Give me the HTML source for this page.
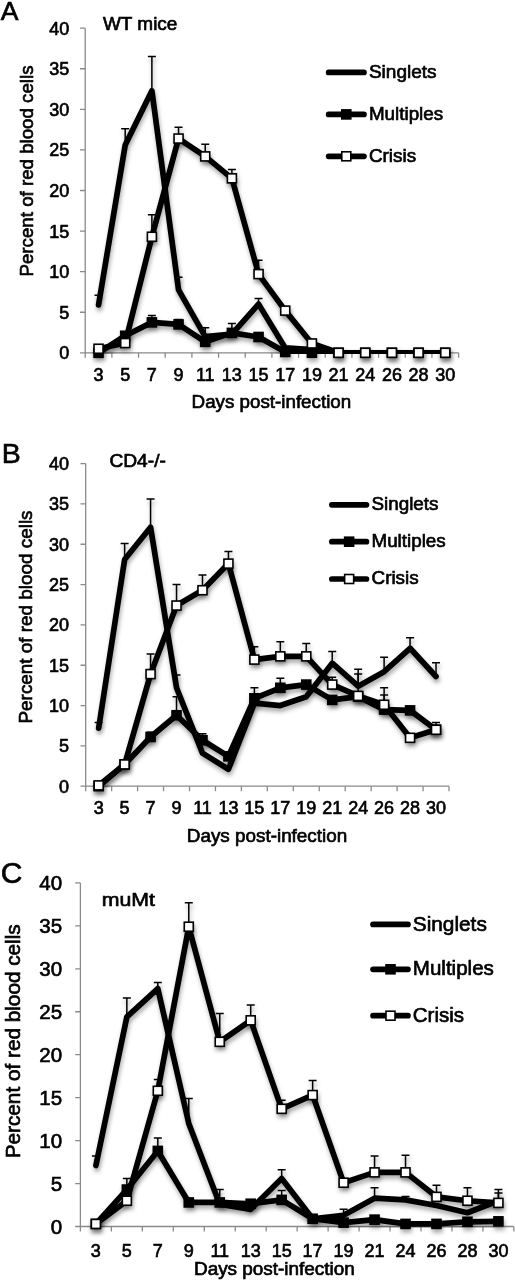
<!DOCTYPE html>
<html><head><meta charset="utf-8"><style>
html,body{margin:0;padding:0;background:#fff;}
svg{display:block;filter:blur(0.3px);}
text{font-family:"Liberation Sans", sans-serif;stroke:#000;stroke-width:0.65px;-webkit-font-smoothing:antialiased;}
</style></head><body>
<svg width="515" height="1280" viewBox="0 0 515 1280" font-family='"Liberation Sans", sans-serif'>
<defs><filter id="sh" x="-10%" y="-10%" width="120%" height="130%"><feDropShadow dx="1" dy="3.5" stdDeviation="2" flood-color="#000" flood-opacity="0.33"/></filter></defs>
<rect width="515" height="1280" fill="#fff"/>
<g stroke="#8a8a8a" stroke-width="1.3" fill="none">
<path d="M85.2 28.2V357.8M85.2 352.8H458.6"/>
<path d="M80 352.8H85.2M80 312.23H85.2M80 271.65H85.2M80 231.07H85.2M80 190.5H85.2M80 149.93H85.2M80 109.35H85.2M80 68.77H85.2M80 28.2H85.2M111.87 352.8v5M138.54 352.8v5M165.21 352.8v5M191.89 352.8v5M218.56 352.8v5M245.23 352.8v5M271.9 352.8v5M298.57 352.8v5M325.24 352.8v5M351.91 352.8v5M378.59 352.8v5M405.26 352.8v5M431.93 352.8v5M458.6 352.8v5"/>
</g>
<g font-size="18" text-anchor="end" fill="#000">
<text x="69.3" y="359.23">0</text>
<text x="69.3" y="318.65">5</text>
<text x="69.3" y="278.08">10</text>
<text x="69.3" y="237.5">15</text>
<text x="69.3" y="196.93">20</text>
<text x="69.3" y="156.35">25</text>
<text x="69.3" y="115.78">30</text>
<text x="69.3" y="75.2">35</text>
<text x="69.3" y="34.63">40</text>
</g>
<g font-size="18" text-anchor="middle" fill="#000">
<text x="98.54" y="381.43">3</text>
<text x="125.21" y="381.43">5</text>
<text x="151.88" y="381.43">7</text>
<text x="178.55" y="381.43">9</text>
<text x="205.22" y="381.43">11</text>
<text x="231.89" y="381.43">13</text>
<text x="258.56" y="381.43">15</text>
<text x="285.24" y="381.43">17</text>
<text x="311.91" y="381.43">19</text>
<text x="338.58" y="381.43">21</text>
<text x="365.25" y="381.43">24</text>
<text x="391.92" y="381.43">26</text>
<text x="418.59" y="381.43">28</text>
<text x="445.26" y="381.43">30</text>
</g>
<text transform="translate(33.16 171) rotate(-90)" text-anchor="middle" font-size="18.5" textLength="211" lengthAdjust="spacingAndGlyphs">Percent of red blood cells</text>
<text x="191.6" y="408" font-size="18" textLength="159.6" lengthAdjust="spacingAndGlyphs">Days post-infection</text>
<text x="0.8" y="20.2" font-size="26.5">A</text>
<text x="102.9" y="30.3" font-size="18" textLength="74.5" lengthAdjust="spacingAndGlyphs">WT mice</text>
<path d="M328.65 72.4H363.95" stroke="#000" stroke-width="5.7" stroke-linecap="round" fill="none"/>
<text x="368.9" y="77.83" font-size="18" textLength="67.7" lengthAdjust="spacingAndGlyphs">Singlets</text>
<path d="M328.65 114.4H363.95" stroke="#000" stroke-width="5.7" stroke-linecap="round" fill="none"/>
<rect x="341.8" y="109.9" width="9.0" height="9.0" fill="#000" stroke="#000" stroke-width="1.6"/>
<text x="368.9" y="119.83" font-size="18" textLength="74.3" lengthAdjust="spacingAndGlyphs">Multiples</text>
<path d="M328.65 156.3H363.95" stroke="#000" stroke-width="5.7" stroke-linecap="round" fill="none"/>
<rect x="341.8" y="151.8" width="9.0" height="9.0" fill="#fff" stroke="#000" stroke-width="1.6"/>
<text x="368.9" y="161.73" font-size="18" textLength="47.2" lengthAdjust="spacingAndGlyphs">Crisis</text>
<clipPath id="clipA"><rect x="85.2" y="8.2" width="393.4" height="345.8"/></clipPath>
<path d="M98.54 304.92V295.18M94.54 295.18H102.54M125.21 145.06V128.83M121.21 128.83H129.21M151.88 90.69V56.6M147.88 56.6H155.88M178.55 289.91V277.33M174.55 277.33H182.55M205.22 336.57V327.64M201.22 327.64H209.22M258.56 304.11V298.43M254.56 298.43H262.56" stroke="#000" stroke-width="1.5" fill="none" filter="url(#sh)"/>
<g clip-path="url(#clipA)"><polyline points="98.54,304.92 125.21,145.06 151.88,90.69 178.55,289.91 205.22,336.57 231.89,334.14 258.56,304.11 285.24,347.93 311.91,349.55 338.58,352.8 365.25,352.8 391.92,352.8 418.59,352.8 445.26,352.8" fill="none" stroke="#000" stroke-width="5.7" stroke-linejoin="round" stroke-linecap="round" filter="url(#sh)"/></g>
<path d="M151.88 322.37V315.47M147.88 315.47H155.88M178.55 324.4V319.53M174.55 319.53H182.55M231.89 332.92V323.59M227.89 323.59H235.89" stroke="#000" stroke-width="1.5" fill="none" filter="url(#sh)"/>
<g clip-path="url(#clipA)"><polyline points="98.54,352.8 125.21,335.76 151.88,322.37 178.55,324.4 205.22,341.84 231.89,332.92 258.56,336.98 285.24,351.99 311.91,352.8 338.58,352.8 365.25,352.8 391.92,352.8 418.59,352.8 445.26,352.8" fill="none" stroke="#000" stroke-width="5.7" stroke-linejoin="round" stroke-linecap="round" filter="url(#sh)"/></g>
<g fill="#000" stroke="#000" stroke-width="1.6" filter="url(#sh)"><rect x="94.04" y="348.3" width="9.0" height="9.0"/><rect x="120.71" y="331.26" width="9.0" height="9.0"/><rect x="147.38" y="317.87" width="9.0" height="9.0"/><rect x="174.05" y="319.9" width="9.0" height="9.0"/><rect x="200.72" y="337.34" width="9.0" height="9.0"/><rect x="227.39" y="328.42" width="9.0" height="9.0"/><rect x="254.06" y="332.48" width="9.0" height="9.0"/><rect x="280.74" y="347.49" width="9.0" height="9.0"/><rect x="307.41" y="348.3" width="9.0" height="9.0"/><rect x="334.08" y="348.3" width="9.0" height="9.0"/><rect x="360.75" y="348.3" width="9.0" height="9.0"/><rect x="387.42" y="348.3" width="9.0" height="9.0"/><rect x="414.09" y="348.3" width="9.0" height="9.0"/><rect x="440.76" y="348.3" width="9.0" height="9.0"/></g>
<path d="M151.88 236.76V214.84M147.88 214.84H155.88M178.55 138.56V127.2M174.55 127.2H182.55M205.22 156.42V144.24M201.22 144.24H209.22M231.89 178.33V169.4M227.89 169.4H235.89M258.56 274.08V260.29M254.56 260.29H262.56" stroke="#000" stroke-width="1.5" fill="none" filter="url(#sh)"/>
<g clip-path="url(#clipA)"><polyline points="98.54,348.74 125.21,343.06 151.88,236.76 178.55,138.56 205.22,156.42 231.89,178.33 258.56,274.08 285.24,310.6 311.91,343.47 338.58,352.8 365.25,352.8 391.92,352.8 418.59,352.8 445.26,352.8" fill="none" stroke="#000" stroke-width="5.7" stroke-linejoin="round" stroke-linecap="round" filter="url(#sh)"/></g>
<g fill="#fff" stroke="#000" stroke-width="1.6" filter="url(#sh)"><rect x="94.04" y="344.24" width="9.0" height="9.0"/><rect x="120.71" y="338.56" width="9.0" height="9.0"/><rect x="147.38" y="232.26" width="9.0" height="9.0"/><rect x="174.05" y="134.06" width="9.0" height="9.0"/><rect x="200.72" y="151.92" width="9.0" height="9.0"/><rect x="227.39" y="173.83" width="9.0" height="9.0"/><rect x="254.06" y="269.58" width="9.0" height="9.0"/><rect x="280.74" y="306.1" width="9.0" height="9.0"/><rect x="307.41" y="338.97" width="9.0" height="9.0"/><rect x="334.08" y="348.3" width="9.0" height="9.0"/><rect x="360.75" y="348.3" width="9.0" height="9.0"/><rect x="387.42" y="348.3" width="9.0" height="9.0"/><rect x="414.09" y="348.3" width="9.0" height="9.0"/><rect x="440.76" y="348.3" width="9.0" height="9.0"/></g>
<g stroke="#8a8a8a" stroke-width="1.3" fill="none">
<path d="M85.7 463.6V791.2M85.7 786.2H449"/>
<path d="M80.5 786.2H85.7M80.5 745.88H85.7M80.5 705.55H85.7M80.5 665.23H85.7M80.5 624.9H85.7M80.5 584.58H85.7M80.5 544.25H85.7M80.5 503.93H85.7M80.5 463.6H85.7M111.65 786.2v5M137.6 786.2v5M163.55 786.2v5M189.5 786.2v5M215.45 786.2v5M241.4 786.2v5M267.35 786.2v5M293.3 786.2v5M319.25 786.2v5M345.2 786.2v5M371.15 786.2v5M397.1 786.2v5M423.05 786.2v5M449 786.2v5"/>
</g>
<g font-size="18" text-anchor="end" fill="#000">
<text x="69.1" y="792.63">0</text>
<text x="69.1" y="752.3">5</text>
<text x="69.1" y="711.98">10</text>
<text x="69.1" y="671.65">15</text>
<text x="69.1" y="631.33">20</text>
<text x="69.1" y="591">25</text>
<text x="69.1" y="550.68">30</text>
<text x="69.1" y="510.35">35</text>
<text x="69.1" y="470.03">40</text>
</g>
<g font-size="18" text-anchor="middle" fill="#000">
<text x="98.67" y="814.43">3</text>
<text x="124.62" y="814.43">5</text>
<text x="150.57" y="814.43">7</text>
<text x="176.53" y="814.43">9</text>
<text x="202.47" y="814.43">11</text>
<text x="228.43" y="814.43">13</text>
<text x="254.38" y="814.43">15</text>
<text x="280.32" y="814.43">17</text>
<text x="306.27" y="814.43">19</text>
<text x="332.23" y="814.43">21</text>
<text x="358.17" y="814.43">24</text>
<text x="384.12" y="814.43">26</text>
<text x="410.07" y="814.43">28</text>
<text x="436.02" y="814.43">30</text>
</g>
<text transform="translate(31.86 617) rotate(-90)" text-anchor="middle" font-size="18.5" textLength="213" lengthAdjust="spacingAndGlyphs">Percent of red blood cells</text>
<text x="186.8" y="841.5" font-size="18" textLength="160.4" lengthAdjust="spacingAndGlyphs">Days post-infection</text>
<text x="1.8" y="462.9" font-size="28.5">B</text>
<text x="109.4" y="467.2" font-size="18" textLength="56.5" lengthAdjust="spacingAndGlyphs">CD4-/-</text>
<path d="M331.85 504.8H366.45" stroke="#000" stroke-width="5.7" stroke-linecap="round" fill="none"/>
<text x="371.5" y="510.23" font-size="18" textLength="67" lengthAdjust="spacingAndGlyphs">Singlets</text>
<path d="M331.85 541.7H366.45" stroke="#000" stroke-width="5.7" stroke-linecap="round" fill="none"/>
<rect x="344.65" y="537.2" width="9.0" height="9.0" fill="#000" stroke="#000" stroke-width="1.6"/>
<text x="371.5" y="547.13" font-size="18" textLength="74.2" lengthAdjust="spacingAndGlyphs">Multiples</text>
<path d="M331.85 579H366.45" stroke="#000" stroke-width="5.7" stroke-linecap="round" fill="none"/>
<rect x="344.65" y="574.5" width="9.0" height="9.0" fill="#fff" stroke="#000" stroke-width="1.6"/>
<text x="371.5" y="584.43" font-size="18" textLength="47.2" lengthAdjust="spacingAndGlyphs">Crisis</text>
<clipPath id="clipB"><rect x="85.7" y="443.6" width="383.3" height="343.8"/></clipPath>
<path d="M98.67 728.13V722.49M94.67 722.49H102.67M124.62 559.57V543.44M120.62 543.44H128.62M150.57 527.31V499.09M146.57 499.09H154.57M176.53 687.81V674.9M172.53 674.9H180.53M332.23 663.21V651.51M328.23 651.51H336.23M358.17 686.19V669.26M354.17 669.26H362.17M384.12 671.68V657.16M380.12 657.16H388.12M410.07 648.29V637.8M406.07 637.8H414.07M436.02 676.52V662.81M432.02 662.81H440.02" stroke="#000" stroke-width="1.5" fill="none" filter="url(#sh)"/>
<g clip-path="url(#clipB)"><polyline points="98.67,728.13 124.62,559.57 150.57,527.31 176.53,687.81 202.47,753.13 228.43,769.26 254.38,703.13 280.32,705.55 306.27,696.68 332.23,663.21 358.17,686.19 384.12,671.68 410.07,648.29 436.02,676.52" fill="none" stroke="#000" stroke-width="5.7" stroke-linejoin="round" stroke-linecap="round" filter="url(#sh)"/></g>
<path d="M150.57 737V732.16M146.57 732.16H154.57M176.53 715.23V696.68M172.53 696.68H180.53M202.47 740.23V733.78M198.47 733.78H206.47M254.38 698.29V687.81M250.38 687.81H258.38M280.32 687.81V678.13M276.32 678.13H284.32M384.12 709.58V695.07M380.12 695.07H388.12" stroke="#000" stroke-width="1.5" fill="none" filter="url(#sh)"/>
<g clip-path="url(#clipB)"><polyline points="98.67,786.2 124.62,764.42 150.57,737 176.53,715.23 202.47,740.23 228.43,756.36 254.38,698.29 280.32,687.81 306.27,684.58 332.23,699.9 358.17,696.68 384.12,709.58 410.07,710.39 436.02,729.75" fill="none" stroke="#000" stroke-width="5.7" stroke-linejoin="round" stroke-linecap="round" filter="url(#sh)"/></g>
<g fill="#000" stroke="#000" stroke-width="1.6" filter="url(#sh)"><rect x="94.17" y="781.7" width="9.0" height="9.0"/><rect x="120.12" y="759.92" width="9.0" height="9.0"/><rect x="146.07" y="732.5" width="9.0" height="9.0"/><rect x="172.03" y="710.73" width="9.0" height="9.0"/><rect x="197.97" y="735.73" width="9.0" height="9.0"/><rect x="223.93" y="751.86" width="9.0" height="9.0"/><rect x="249.88" y="693.79" width="9.0" height="9.0"/><rect x="275.82" y="683.31" width="9.0" height="9.0"/><rect x="301.77" y="680.08" width="9.0" height="9.0"/><rect x="327.73" y="695.4" width="9.0" height="9.0"/><rect x="353.67" y="692.18" width="9.0" height="9.0"/><rect x="379.62" y="705.08" width="9.0" height="9.0"/><rect x="405.57" y="705.89" width="9.0" height="9.0"/><rect x="431.52" y="725.25" width="9.0" height="9.0"/></g>
<path d="M150.57 674.1V653.93M146.57 653.93H154.57M176.53 605.54V584.58M172.53 584.58H180.53M202.47 590.22V574.9M198.47 574.9H206.47M228.43 563.61V551.51M224.43 551.51H232.43M254.38 659.58V646.68M250.38 646.68H258.38M280.32 656.35V641.84M276.32 641.84H284.32M306.27 656.35V643.45M302.27 643.45H310.27M332.23 684.58V677.32M328.23 677.32H336.23M358.17 695.87V674.1M354.17 674.1H362.17M384.12 704.74V687.81M380.12 687.81H388.12M436.02 729.75V722.49M432.02 722.49H440.02" stroke="#000" stroke-width="1.5" fill="none" filter="url(#sh)"/>
<g clip-path="url(#clipB)"><polyline points="98.67,785.39 124.62,764.42 150.57,674.1 176.53,605.54 202.47,590.22 228.43,563.61 254.38,659.58 280.32,656.35 306.27,656.35 332.23,684.58 358.17,695.87 384.12,704.74 410.07,737.81 436.02,729.75" fill="none" stroke="#000" stroke-width="5.7" stroke-linejoin="round" stroke-linecap="round" filter="url(#sh)"/></g>
<g fill="#fff" stroke="#000" stroke-width="1.6" filter="url(#sh)"><rect x="94.17" y="780.89" width="9.0" height="9.0"/><rect x="120.12" y="759.92" width="9.0" height="9.0"/><rect x="146.07" y="669.6" width="9.0" height="9.0"/><rect x="172.03" y="601.04" width="9.0" height="9.0"/><rect x="197.97" y="585.72" width="9.0" height="9.0"/><rect x="223.93" y="559.11" width="9.0" height="9.0"/><rect x="249.88" y="655.08" width="9.0" height="9.0"/><rect x="275.82" y="651.85" width="9.0" height="9.0"/><rect x="301.77" y="651.85" width="9.0" height="9.0"/><rect x="327.73" y="680.08" width="9.0" height="9.0"/><rect x="353.67" y="691.37" width="9.0" height="9.0"/><rect x="379.62" y="700.24" width="9.0" height="9.0"/><rect x="405.57" y="733.31" width="9.0" height="9.0"/><rect x="431.52" y="725.25" width="9.0" height="9.0"/></g>
<g stroke="#8a8a8a" stroke-width="1.3" fill="none">
<path d="M80.4 882.9V1231.5M80.4 1226.5H513.9"/>
<path d="M75.2 1226.5H80.4M75.2 1183.55H80.4M75.2 1140.6H80.4M75.2 1097.65H80.4M75.2 1054.7H80.4M75.2 1011.75H80.4M75.2 968.8H80.4M75.2 925.85H80.4M75.2 882.9H80.4M111.36 1226.5v5M142.33 1226.5v5M173.29 1226.5v5M204.26 1226.5v5M235.22 1226.5v5M266.19 1226.5v5M297.15 1226.5v5M328.11 1226.5v5M359.08 1226.5v5M390.04 1226.5v5M421.01 1226.5v5M451.97 1226.5v5M482.94 1226.5v5M513.9 1226.5v5"/>
</g>
<g font-size="20.5" text-anchor="end" fill="#000">
<text x="62.1" y="1233.82">0</text>
<text x="62.1" y="1190.87">5</text>
<text x="62.1" y="1147.92">10</text>
<text x="62.1" y="1104.97">15</text>
<text x="62.1" y="1062.02">20</text>
<text x="62.1" y="1019.07">25</text>
<text x="62.1" y="976.12">30</text>
<text x="62.1" y="933.17">35</text>
<text x="62.1" y="890.22">40</text>
</g>
<g font-size="18" text-anchor="middle" fill="#000">
<text x="95.88" y="1256.73">3</text>
<text x="126.85" y="1256.73">5</text>
<text x="157.81" y="1256.73">7</text>
<text x="188.78" y="1256.73">9</text>
<text x="219.74" y="1256.73">11</text>
<text x="250.7" y="1256.73">13</text>
<text x="281.67" y="1256.73">15</text>
<text x="312.63" y="1256.73">17</text>
<text x="343.6" y="1256.73">19</text>
<text x="374.56" y="1256.73">21</text>
<text x="405.52" y="1256.73">24</text>
<text x="436.49" y="1256.73">26</text>
<text x="467.45" y="1256.73">28</text>
<text x="498.42" y="1256.73">30</text>
</g>
<text transform="translate(19.78 1041.3) rotate(-90)" text-anchor="middle" font-size="20.5" textLength="234" lengthAdjust="spacingAndGlyphs">Percent of red blood cells</text>
<text x="194" y="1275" font-size="18" textLength="160.8" lengthAdjust="spacingAndGlyphs">Days post-infection</text>
<text x="0.7" y="883" font-size="30">C</text>
<text x="101.7" y="906.2" font-size="19" textLength="53.2" lengthAdjust="spacingAndGlyphs">muMt</text>
<path d="M373.05 924.4H407.95" stroke="#000" stroke-width="5.7" stroke-linecap="round" fill="none"/>
<text x="412.8" y="930.54" font-size="20" textLength="74" lengthAdjust="spacingAndGlyphs">Singlets</text>
<path d="M373.05 969.3H407.95" stroke="#000" stroke-width="5.7" stroke-linecap="round" fill="none"/>
<rect x="386" y="964.8" width="9.0" height="9.0" fill="#000" stroke="#000" stroke-width="1.6"/>
<text x="412.8" y="975.44" font-size="20" textLength="81.1" lengthAdjust="spacingAndGlyphs">Multiples</text>
<path d="M373.05 1015.7H407.95" stroke="#000" stroke-width="5.7" stroke-linecap="round" fill="none"/>
<rect x="386" y="1011.2" width="9.0" height="9.0" fill="#fff" stroke="#000" stroke-width="1.6"/>
<text x="412.8" y="1021.84" font-size="20" textLength="51.3" lengthAdjust="spacingAndGlyphs">Crisis</text>
<clipPath id="clipC"><rect x="80.4" y="862.9" width="453.5" height="364.8"/></clipPath>
<path d="M95.88 1165.51V1156.06M91.88 1156.06H99.88M126.85 1016.9V998.01M122.85 998.01H130.85M157.81 988.56V982.54M153.81 982.54H161.81M188.78 1123.42V1098.51M184.78 1098.51H192.78M250.7 1209.32V1199.87M246.7 1199.87H254.7M281.67 1178.4V1169.81M277.67 1169.81H285.67M343.6 1215.33V1209.32M339.6 1209.32H347.6M374.56 1198.15V1187.85M370.56 1187.85H378.56M405.52 1199.87V1196.43M401.52 1196.43H409.52M498.42 1200.73V1193M494.42 1193H502.42" stroke="#000" stroke-width="1.5" fill="none" filter="url(#sh)"/>
<g clip-path="url(#clipC)"><polyline points="95.88,1165.51 126.85,1016.9 157.81,988.56 188.78,1123.42 219.74,1204.17 250.7,1209.32 281.67,1178.4 312.63,1218.77 343.6,1215.33 374.56,1198.15 405.52,1199.87 436.49,1205.45 467.45,1212.76 498.42,1200.73" fill="none" stroke="#000" stroke-width="5.7" stroke-linejoin="round" stroke-linecap="round" filter="url(#sh)"/></g>
<path d="M126.85 1189.56V1178.4M122.85 1178.4H130.85M157.81 1150.91V1138.02M153.81 1138.02H161.81M219.74 1202.45V1189.56M215.74 1189.56H223.74M281.67 1199.87V1190.42M277.67 1190.42H285.67" stroke="#000" stroke-width="1.5" fill="none" filter="url(#sh)"/>
<g clip-path="url(#clipC)"><polyline points="95.88,1223.92 126.85,1189.56 157.81,1150.91 188.78,1202.45 219.74,1202.45 250.7,1203.74 281.67,1199.87 312.63,1218.77 343.6,1222.63 374.56,1219.63 405.52,1223.92 436.49,1223.92 467.45,1221.78 498.42,1221.35" fill="none" stroke="#000" stroke-width="5.7" stroke-linejoin="round" stroke-linecap="round" filter="url(#sh)"/></g>
<g fill="#000" stroke="#000" stroke-width="1.6" filter="url(#sh)"><rect x="91.38" y="1219.42" width="9.0" height="9.0"/><rect x="122.35" y="1185.06" width="9.0" height="9.0"/><rect x="153.31" y="1146.41" width="9.0" height="9.0"/><rect x="184.28" y="1197.95" width="9.0" height="9.0"/><rect x="215.24" y="1197.95" width="9.0" height="9.0"/><rect x="246.2" y="1199.24" width="9.0" height="9.0"/><rect x="277.17" y="1195.37" width="9.0" height="9.0"/><rect x="308.13" y="1214.27" width="9.0" height="9.0"/><rect x="339.1" y="1218.13" width="9.0" height="9.0"/><rect x="370.06" y="1215.13" width="9.0" height="9.0"/><rect x="401.02" y="1219.42" width="9.0" height="9.0"/><rect x="431.99" y="1219.42" width="9.0" height="9.0"/><rect x="462.95" y="1217.28" width="9.0" height="9.0"/><rect x="493.92" y="1216.85" width="9.0" height="9.0"/></g>
<path d="M157.81 1090.78V1079.61M153.81 1079.61H161.81M188.78 926.71V902.66M184.78 902.66H192.78M219.74 1041.82V1013.47M215.74 1013.47H223.74M250.7 1020.34V1004.88M246.7 1004.88H254.7M281.67 1108.82V1100.23M277.67 1100.23H285.67M312.63 1095.07V1080.47M308.63 1080.47H316.63M374.56 1172.38V1156.06M370.56 1156.06H378.56M405.52 1172.38V1155.2M401.52 1155.2H409.52M436.49 1196.86V1185.27M432.49 1185.27H440.49M467.45 1200.73V1187.85M463.45 1187.85H471.45M498.42 1202.88V1189.56M494.42 1189.56H502.42" stroke="#000" stroke-width="1.5" fill="none" filter="url(#sh)"/>
<g clip-path="url(#clipC)"><polyline points="95.88,1223.92 126.85,1200.73 157.81,1090.78 188.78,926.71 219.74,1041.82 250.7,1020.34 281.67,1108.82 312.63,1095.07 343.6,1182.69 374.56,1172.38 405.52,1172.38 436.49,1196.86 467.45,1200.73 498.42,1202.88" fill="none" stroke="#000" stroke-width="5.7" stroke-linejoin="round" stroke-linecap="round" filter="url(#sh)"/></g>
<g fill="#fff" stroke="#000" stroke-width="1.6" filter="url(#sh)"><rect x="91.38" y="1219.42" width="9.0" height="9.0"/><rect x="122.35" y="1196.23" width="9.0" height="9.0"/><rect x="153.31" y="1086.28" width="9.0" height="9.0"/><rect x="184.28" y="922.21" width="9.0" height="9.0"/><rect x="215.24" y="1037.32" width="9.0" height="9.0"/><rect x="246.2" y="1015.84" width="9.0" height="9.0"/><rect x="277.17" y="1104.32" width="9.0" height="9.0"/><rect x="308.13" y="1090.57" width="9.0" height="9.0"/><rect x="339.1" y="1178.19" width="9.0" height="9.0"/><rect x="370.06" y="1167.88" width="9.0" height="9.0"/><rect x="401.02" y="1167.88" width="9.0" height="9.0"/><rect x="431.99" y="1192.36" width="9.0" height="9.0"/><rect x="462.95" y="1196.23" width="9.0" height="9.0"/><rect x="493.92" y="1198.38" width="9.0" height="9.0"/></g>
</svg>
</body></html>
